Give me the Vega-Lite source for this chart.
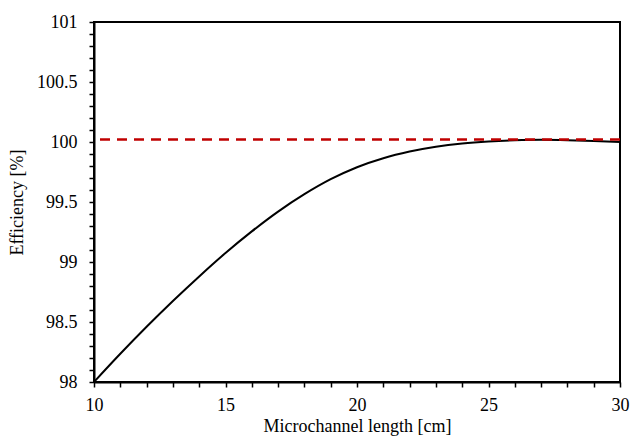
{
  "$schema": "https://vega.github.io/schema/vega-lite/v6.json",
  "width": 526,
  "height": 360,
  "autosize": {"type": "none"},
  "padding": {"left": 94, "top": 22, "right": 10, "bottom": 60},
  "background": "white",
  "config": {
    "view": {"stroke": "black", "strokeWidth": 2},
    "font": "Liberation Serif",
    "axis": {
      "grid": false,
      "domainColor": "black",
      "domainWidth": 2,
      "tickColor": "black",
      "tickWidth": 1.5,
      "tickSize": 5,
      "labelFont": "Liberation Serif",
      "labelFontSize": 18,
      "labelColor": "black",
      "titleFont": "Liberation Serif",
      "titleFontSize": 18,
      "titleFontWeight": "normal",
      "titleColor": "black",
      "labelOverlap": false,
      "labelFlush": false
    }
  },
  "layer": [
    {
      "data": {"values": [
        {"length": 10, "eff": 98.0},
        {"length": 11, "eff": 98.235},
        {"length": 12, "eff": 98.46},
        {"length": 13, "eff": 98.675},
        {"length": 14, "eff": 98.88},
        {"length": 15, "eff": 99.075},
        {"length": 16, "eff": 99.255},
        {"length": 17, "eff": 99.42},
        {"length": 18, "eff": 99.565},
        {"length": 19, "eff": 99.69},
        {"length": 20, "eff": 99.79},
        {"length": 21, "eff": 99.865},
        {"length": 22, "eff": 99.92},
        {"length": 23, "eff": 99.96},
        {"length": 24, "eff": 99.987},
        {"length": 25, "eff": 100.004},
        {"length": 26, "eff": 100.014},
        {"length": 27, "eff": 100.018},
        {"length": 28, "eff": 100.015},
        {"length": 29, "eff": 100.008},
        {"length": 30, "eff": 99.999}
      ]},
      "mark": {"type": "line", "color": "black", "strokeWidth": 2, "interpolate": "monotone"},
      "encoding": {
        "x": {
          "field": "length", "type": "quantitative",
          "scale": {"domain": [10, 30], "nice": false, "zero": false},
          "axis": {
            "title": "Microchannel length [cm]",
            "values": [10,11,12,13,14,15,16,17,18,19,20,21,22,23,24,25,26,27,28,29,30],
            "labelExpr": "datum.value % 5 == 0 ? datum.label : ''",
            "format": "d",
            "labelFont": "Liberation Serif",
            "labelFontSize": 18,
            "titleFont": "Liberation Serif",
            "titleFontSize": 18,
            "labelPadding": 9,
            "titlePadding": 3
          }
        },
        "y": {
          "field": "eff", "type": "quantitative",
          "scale": {"domain": [98, 101], "nice": false, "zero": false},
          "axis": {
            "title": "Efficiency [%]",
            "values": [98,98.1,98.2,98.3,98.4,98.5,98.6,98.7,98.8,98.9,99,99.1,99.2,99.3,99.4,99.5,99.6,99.7,99.8,99.9,100,100.1,100.2,100.3,100.4,100.5,100.6,100.7,100.8,100.9,101],
            "labelExpr": "abs(datum.value*2 - round(datum.value*2)) < 0.001 ? datum.label : ''",
            "format": ".4~g",
            "labelFont": "Liberation Serif",
            "labelFontSize": 18,
            "titleFont": "Liberation Serif",
            "titleFontSize": 18,
            "labelPadding": 12,
            "titlePadding": 10
          }
        }
      }
    },
    {
      "data": {"values": [{"ref": 100.02}]},
      "mark": {"type": "rule", "color": "#c00000", "strokeWidth": 2.5, "strokeDash": [10, 7]},
      "encoding": {
        "y": {
          "field": "ref", "type": "quantitative",
          "axis": {
            "title": "Efficiency [%]",
            "values": [98,98.1,98.2,98.3,98.4,98.5,98.6,98.7,98.8,98.9,99,99.1,99.2,99.3,99.4,99.5,99.6,99.7,99.8,99.9,100,100.1,100.2,100.3,100.4,100.5,100.6,100.7,100.8,100.9,101],
            "labelExpr": "abs(datum.value*2 - round(datum.value*2)) < 0.001 ? datum.label : ''",
            "format": ".4~g",
            "labelFont": "Liberation Serif",
            "labelFontSize": 18,
            "titleFont": "Liberation Serif",
            "titleFontSize": 18,
            "labelPadding": 12,
            "titlePadding": 10
          }
        }
      }
    }
  ]
}
